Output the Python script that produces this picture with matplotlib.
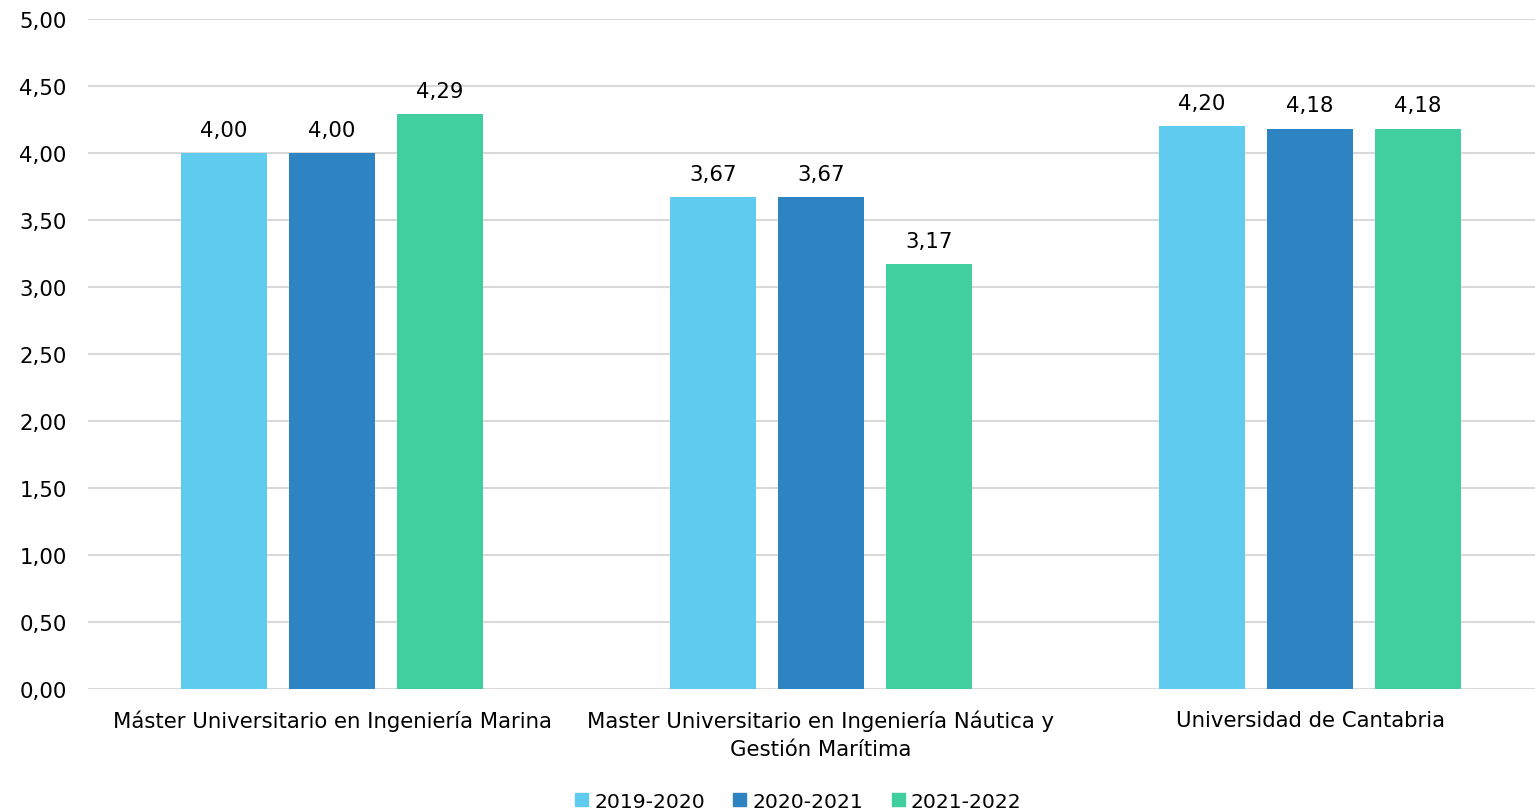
import numpy as np
import matplotlib
matplotlib.use('Agg')
from matplotlib import pyplot as plt
from matplotlib.patches import Patch

# datos
categorias = ['Máster Universitario en Ingeniería Marina',
              'Master Universitario en Ingeniería Náutica y\nGestión Marítima',
              'Universidad de Cantabria']
series = ['2019-2020', '2020-2021', '2021-2022']
v2019 = [4.00, 3.67, 4.20]
v2020 = [4.00, 3.67, 4.18]
v2021 = [4.29, 3.17, 4.18]
colores = ['#5ECBEF', '#2E83C3', '#41CFA0']

plt.rcParams['font.family'] = ['DejaVu Sans']
W, H = 1535, 812
fig = plt.figure(figsize=(W/100, H/100), dpi=100)
# eje: 0 en y=690, 5 en y=20; categorias separadas 489 px
left = 87.5
ax = fig.add_axes([left/W, (H-690)/H, (W-left)/W, 670/H])
d = 489.0
ax.set_xlim(-0.5, -0.5 + (W-left)/d)
ax.set_ylim(0, 5)

fs = 15.3
x = np.arange(len(categorias))
ancho = 86/d
paso = 108/d
for i, (vals, c) in enumerate(zip([v2019, v2020, v2021], colores)):
    pos = x + (i-1)*paso
    bars = ax.bar(pos, vals, ancho, color=c, zorder=3)
    for b, v in zip(bars, vals):
        ax.text(b.get_x()+b.get_width()/2, v+0.1, ('%.2f' % v).replace('.', ','),
                ha='center', va='bottom', fontsize=fs)

ax.set_yticks(np.arange(0, 5.01, 0.5))
ax.set_yticklabels([('%.2f' % t).replace('.', ',') for t in np.arange(0, 5.01, 0.5)], fontsize=fs)
ax.yaxis.grid(True, color='#D9D9D9', linewidth=1.5, zorder=0)
ax.set_xticks(x)
ax.set_xticklabels(categorias, fontsize=fs, linespacing=1.45)
ax.tick_params(axis='both', length=0)
ax.tick_params(axis='y', pad=15)
ax.tick_params(axis='x', pad=15)
for s in ax.spines.values():
    s.set_visible(False)

handles = [Patch(color=c) for c in colores]
fig.legend(handles, series, loc='center', bbox_to_anchor=(0.52, 0.012), ncol=3,
           frameon=False, fontsize=14.6, handlelength=0.65, handleheight=0.65,
           handletextpad=0.3, columnspacing=1.4)

fig.savefig('out.png', dpi=100)
